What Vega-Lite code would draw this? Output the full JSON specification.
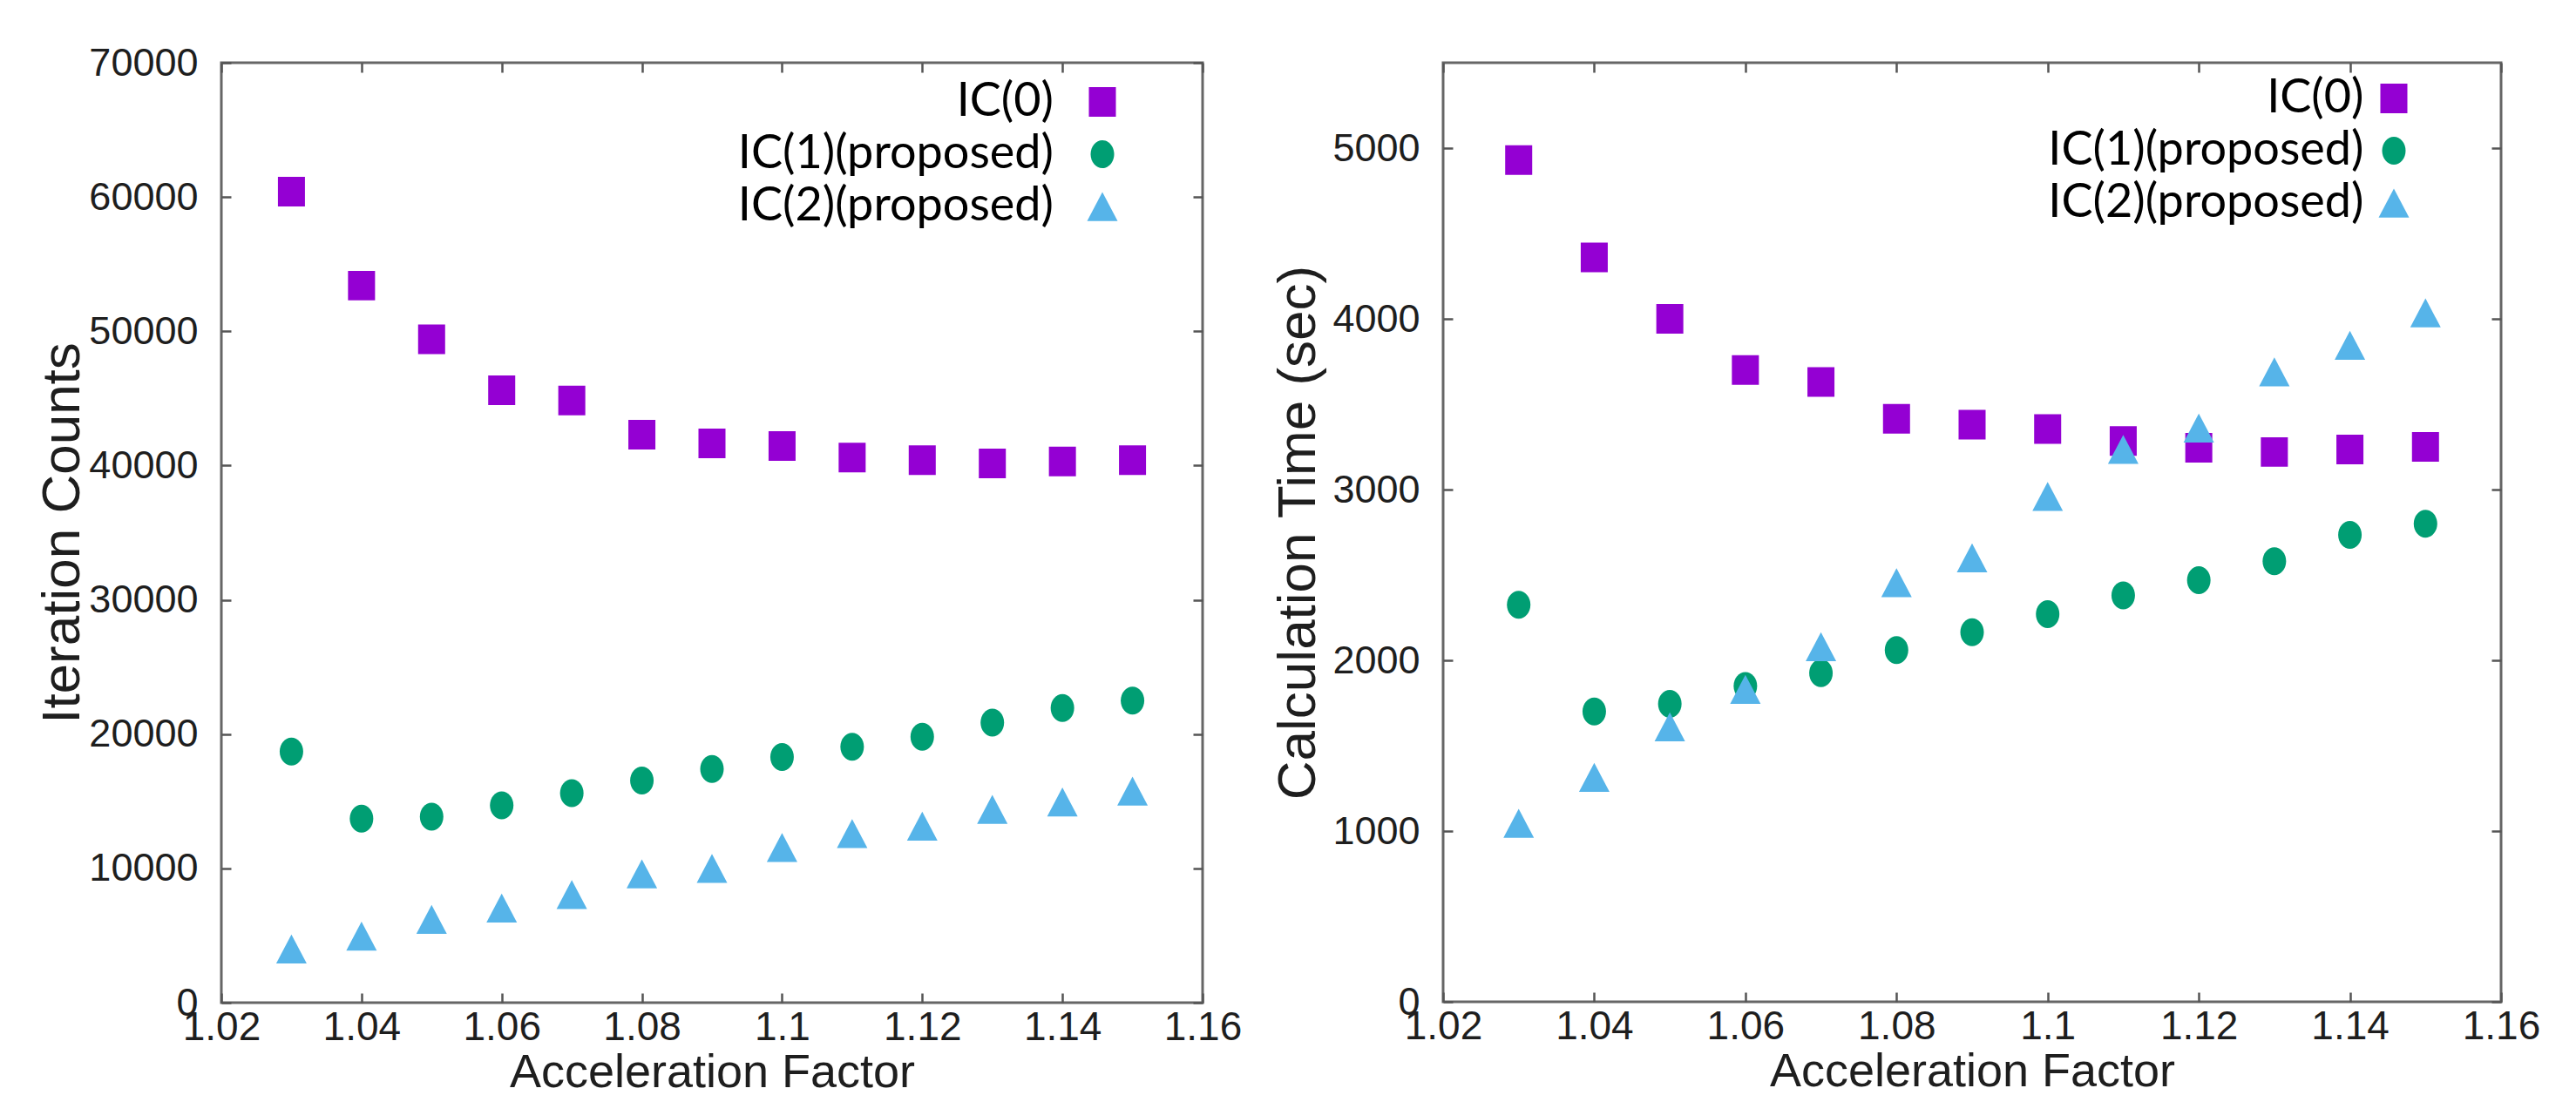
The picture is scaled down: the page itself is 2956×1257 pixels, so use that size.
{
  "$schema": "https://vega.github.io/schema/vega-lite/v6.json",
  "background": "white",
  "padding": {"left": 39, "top": 48, "right": 5, "bottom": 0},
  "datasets": {
    "d": [
      {"af": 1.03, "scheme": "IC(0)", "iter": 60400, "time": 4930},
      {"af": 1.04, "scheme": "IC(0)", "iter": 53400, "time": 4360},
      {"af": 1.05, "scheme": "IC(0)", "iter": 49400, "time": 4000},
      {"af": 1.06, "scheme": "IC(0)", "iter": 45600, "time": 3700},
      {"af": 1.07, "scheme": "IC(0)", "iter": 44850, "time": 3630},
      {"af": 1.08, "scheme": "IC(0)", "iter": 42300, "time": 3415},
      {"af": 1.09, "scheme": "IC(0)", "iter": 41650, "time": 3380},
      {"af": 1.10, "scheme": "IC(0)", "iter": 41450, "time": 3355},
      {"af": 1.11, "scheme": "IC(0)", "iter": 40600, "time": 3285},
      {"af": 1.12, "scheme": "IC(0)", "iter": 40400, "time": 3245},
      {"af": 1.13, "scheme": "IC(0)", "iter": 40150, "time": 3220},
      {"af": 1.14, "scheme": "IC(0)", "iter": 40300, "time": 3235},
      {"af": 1.15, "scheme": "IC(0)", "iter": 40400, "time": 3250},
      {"af": 1.03, "scheme": "IC(1)(proposed)", "iter": 18700, "time": 2325},
      {"af": 1.04, "scheme": "IC(1)(proposed)", "iter": 13700, "time": 1700},
      {"af": 1.05, "scheme": "IC(1)(proposed)", "iter": 13850, "time": 1745},
      {"af": 1.06, "scheme": "IC(1)(proposed)", "iter": 14700, "time": 1850},
      {"af": 1.07, "scheme": "IC(1)(proposed)", "iter": 15600, "time": 1925},
      {"af": 1.08, "scheme": "IC(1)(proposed)", "iter": 16550, "time": 2060},
      {"af": 1.09, "scheme": "IC(1)(proposed)", "iter": 17400, "time": 2165},
      {"af": 1.10, "scheme": "IC(1)(proposed)", "iter": 18300, "time": 2270},
      {"af": 1.11, "scheme": "IC(1)(proposed)", "iter": 19050, "time": 2380},
      {"af": 1.12, "scheme": "IC(1)(proposed)", "iter": 19800, "time": 2470},
      {"af": 1.13, "scheme": "IC(1)(proposed)", "iter": 20850, "time": 2580},
      {"af": 1.14, "scheme": "IC(1)(proposed)", "iter": 21950, "time": 2735},
      {"af": 1.15, "scheme": "IC(1)(proposed)", "iter": 22500, "time": 2800},
      {"af": 1.03, "scheme": "IC(2)(proposed)", "iter": 4000, "time": 1045},
      {"af": 1.04, "scheme": "IC(2)(proposed)", "iter": 4950, "time": 1315},
      {"af": 1.05, "scheme": "IC(2)(proposed)", "iter": 6200, "time": 1610},
      {"af": 1.06, "scheme": "IC(2)(proposed)", "iter": 7050, "time": 1830},
      {"af": 1.07, "scheme": "IC(2)(proposed)", "iter": 8050, "time": 2080},
      {"af": 1.08, "scheme": "IC(2)(proposed)", "iter": 9600, "time": 2455},
      {"af": 1.09, "scheme": "IC(2)(proposed)", "iter": 10000, "time": 2600},
      {"af": 1.10, "scheme": "IC(2)(proposed)", "iter": 11550, "time": 2960},
      {"af": 1.11, "scheme": "IC(2)(proposed)", "iter": 12600, "time": 3235},
      {"af": 1.12, "scheme": "IC(2)(proposed)", "iter": 13150, "time": 3360},
      {"af": 1.13, "scheme": "IC(2)(proposed)", "iter": 14400, "time": 3690},
      {"af": 1.14, "scheme": "IC(2)(proposed)", "iter": 14950, "time": 3845},
      {"af": 1.15, "scheme": "IC(2)(proposed)", "iter": 15750, "time": 4035}
    ]
  },
  "spacing": 276,
  "bounds": "flush",
  "resolve": {
    "scale": {"x": "independent", "y": "independent"},
    "legend": {"color": "independent", "shape": "independent"}
  },
  "hconcat": [
    {
      "data": {"name": "d"},
      "width": 1126,
      "height": 1079,
      "layer": [
        {
          "mark": {"type": "point", "filled": true, "opacity": 1, "size": 1225, "strokeWidth": 0},
          "encoding": {
            "x": {"field": "af", "type": "quantitative",
              "scale": {"domain": [1.02, 1.16], "nice": false, "zero": false},
              "axis": {"orient": "bottom", "title": "Acceleration Factor", "format": ".2~f",
                "values": [1.02, 1.04, 1.06, 1.08, 1.1, 1.12, 1.14, 1.16]}},
            "y": {"field": "iter", "type": "quantitative",
              "scale": {"domain": [0, 70000], "nice": false},
              "axis": {"orient": "left", "title": "Iteration Counts", "format": "d", "titlePadding": -2,
                "values": [0, 10000, 20000, 30000, 40000, 50000, 60000, 70000]}},
            "color": {"field": "scheme", "type": "nominal",
              "scale": {"domain": ["IC(0)", "IC(1)(proposed)", "IC(2)(proposed)"], "range": ["#9400D3", "#009E73", "#56B4E9"]},
              "legend": {"title": null, "orient": "none", "legendX": 984, "legendY": 18, "labelOffset": -83, "rowPadding": 6}},
            "shape": {"field": "scheme", "type": "nominal",
              "scale": {"domain": ["IC(0)", "IC(1)(proposed)", "IC(2)(proposed)"],
                "range": ["M-0.886,-0.971H0.886V0.971H-0.886Z",
                  "M0,-0.914C0.426,-0.914 0.771,-0.505 0.771,0C0.771,0.505 0.426,0.914 0,0.914C-0.426,0.914 -0.771,0.505 -0.771,0C-0.771,-0.505 -0.426,-0.914 0,-0.914Z",
                  "M0,-0.95L1,0.95L-1,0.95Z"]},
              "legend": {"title": null, "orient": "none", "legendX": 984, "legendY": 18, "labelOffset": -83, "rowPadding": 6}}
          }
        },
        {
          "mark": {"type": "point", "opacity": 0},
          "encoding": {
            "x": {"field": "af", "type": "quantitative",
              "axis": {"orient": "top", "labels": false, "title": null, "values": [1.02, 1.04, 1.06, 1.08, 1.1, 1.12, 1.14, 1.16]}},
            "y": {"field": "iter", "type": "quantitative",
              "axis": {"orient": "right", "labels": false, "title": null, "values": [0, 10000, 20000, 30000, 40000, 50000, 60000, 70000]}}
          }
        }
      ],
      "resolve": {"axis": {"x": "independent", "y": "independent"}}
    },
    {
      "data": {"name": "d"},
      "width": 1214,
      "height": 1078,
      "layer": [
        {
          "mark": {"type": "point", "filled": true, "opacity": 1, "size": 1225, "strokeWidth": 0},
          "encoding": {
            "x": {"field": "af", "type": "quantitative",
              "scale": {"domain": [1.02, 1.16], "nice": false, "zero": false},
              "axis": {"orient": "bottom", "title": "Acceleration Factor", "format": ".2~f",
                "values": [1.02, 1.04, 1.06, 1.08, 1.1, 1.12, 1.14, 1.16]}},
            "y": {"field": "time", "type": "quantitative",
              "scale": {"domain": [0, 5500], "nice": false},
              "axis": {"orient": "left", "title": "Calculation Time (sec)", "format": "d", "titlePadding": 7,
                "values": [0, 1000, 2000, 3000, 4000, 5000]}},
            "color": {"field": "scheme", "type": "nominal",
              "scale": {"domain": ["IC(0)", "IC(1)(proposed)", "IC(2)(proposed)"], "range": ["#9400D3", "#009E73", "#56B4E9"]},
              "legend": {"title": null, "orient": "none", "legendX": 1064, "legendY": 14, "labelOffset": -61.5, "rowPadding": 6}},
            "shape": {"field": "scheme", "type": "nominal",
              "scale": {"domain": ["IC(0)", "IC(1)(proposed)", "IC(2)(proposed)"],
                "range": ["M-0.886,-0.971H0.886V0.971H-0.886Z",
                  "M0,-0.914C0.426,-0.914 0.771,-0.505 0.771,0C0.771,0.505 0.426,0.914 0,0.914C-0.426,0.914 -0.771,0.505 -0.771,0C-0.771,-0.505 -0.426,-0.914 0,-0.914Z",
                  "M0,-0.95L1,0.95L-1,0.95Z"]},
              "legend": {"title": null, "orient": "none", "legendX": 1064, "legendY": 14, "labelOffset": -61.5, "rowPadding": 6}}
          }
        },
        {
          "mark": {"type": "point", "opacity": 0},
          "encoding": {
            "x": {"field": "af", "type": "quantitative",
              "axis": {"orient": "top", "labels": false, "title": null, "values": [1.02, 1.04, 1.06, 1.08, 1.1, 1.12, 1.14, 1.16]}},
            "y": {"field": "time", "type": "quantitative",
              "axis": {"orient": "right", "labels": false, "title": null, "values": [0, 1000, 2000, 3000, 4000, 5000]}}
          }
        }
      ],
      "resolve": {"axis": {"x": "independent", "y": "independent"}}
    }
  ],
  "config": {
    "font": "Liberation Sans",
    "view": {"stroke": "#666666", "strokeWidth": 3},
    "axis": {
      "domain": false, "grid": false, "tickSize": -11, "tickColor": "#555555", "tickWidth": 2.5,
      "labelColor": "#1e1e1e", "titleColor": "#1e1e1e", "titleFontWeight": "normal",
      "labelFlush": false, "labelOverlap": false
    },
    "axisX": {"labelFont": "Liberation Sans", "labelFontSize": 46, "titleFont": "Liberation Sans", "titleFontSize": 54, "labelPadding": 17, "titlePadding": 2},
    "axisY": {"labelFont": "Liberation Sans", "labelFontSize": 45, "titleFont": "Liberation Sans", "titleFontSize": 62, "labelPadding": 38},
    "legend": {
      "labelFont": "Lato", "labelFontSize": 54, "labelColor": "#000000", "labelAlign": "right",
      "labelLimit": 0, "symbolSize": 1225, "symbolStrokeWidth": 0, "symbolOpacity": 1, "padding": 0
    }
  }
}
